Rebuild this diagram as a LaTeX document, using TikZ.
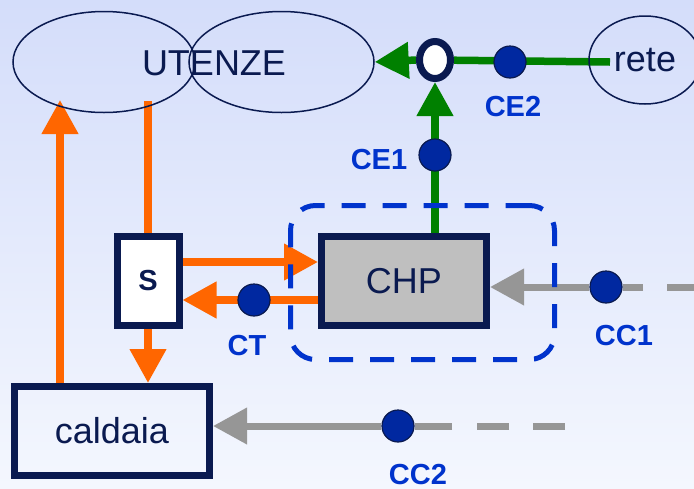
\documentclass[tikz,border=0pt]{standalone}
\usepackage{fontspec}
\setmainfont{Liberation Sans}
\usetikzlibrary{positioning, arrows.meta, shapes.geometric, backgrounds}
\definecolor{navy}{RGB}{10,26,80}
\definecolor{dotblue}{RGB}{0,40,160}
\definecolor{labelblue}{RGB}{0,51,204}
\definecolor{heatorange}{RGB}{255,102,0}
\definecolor{elgreen}{RGB}{0,128,0}
\definecolor{fuelgray}{RGB}{150,150,150}
\definecolor{bgtop}{RGB}{212,221,250}
\definecolor{bgbottom}{RGB}{244,247,254}
\newcommand{\bigfont}{\fontsize{36}{40}\selectfont}
\newcommand{\labfont}{\fontsize{29}{32}\selectfont\bfseries}

\tikzset{
  userell/.style={draw=navy, line width=1.5pt, ellipse, inner sep=0pt},
  unitbox/.style={draw=navy, line width=7pt, inner sep=0pt, text=navy},
  meter/.style={circle, draw=navy, line width=1.2pt, fill=dotblue,
                minimum size=32pt, inner sep=0pt},
  meterlabel/.style={font=\labfont, text=labelblue, inner sep=0pt},
  heatline/.style={draw=heatorange, line width=7.5pt},
  powerline/.style={draw=elgreen, line width=7.5pt},
  fuelline/.style={draw=fuelgray, line width=7pt},
  tip/.style={-{Triangle[length=34pt, width=35pt]}}
}

\begin{document}
\begin{tikzpicture}[x=1pt, y=-1pt, font=\bigfont]
        \useasboundingbox (0,0) rectangle (694,488);
        % users, grid and junction
        \node[userell, minimum width=182pt, minimum height=101pt] (ut1) at (104,62) {};
        \node[userell, minimum width=185pt, minimum height=101pt] (ut2) at (281.5,62) {};
        \node[text=navy, inner sep=0pt] (utxt) at (214,63) {UTENZE};
        \node[userell, minimum width=112pt, minimum height=88pt] (rete) at (645,60) {};
        \node[text=navy, inner sep=0pt] (retetxt) at (645,60) {rete};
        \node[ellipse, draw=navy, line width=7pt, fill=white, inner sep=0pt,
              minimum width=31pt, minimum height=37pt] (jn) at (435,60) {};
        % units
        \node[unitbox, fill=white, minimum width=62pt, minimum height=89pt,
              font=\labfont] (S) at (148,281) {S};
        \node[unitbox, fill=black!25, minimum width=165pt, minimum height=89pt]
              (CHP) at (404,281) {CHP};
        \node[unitbox, minimum width=195pt, minimum height=89pt] (caldaia)
              at (112,431) {caldaia};
        \node[draw=labelblue, line width=5pt, dash pattern=on 24pt off 17pt,
              rounded corners=25pt, minimum width=264pt, minimum height=154pt]
              (chpzone) at (422.5,282.5) {};
        % meters
        \node[meter] (ce1) at (435,155) {};
        \node[meter] (ce2) at (510,62) {};
        \node[meter] (ct) at (254,300) {};
        \node[meter] (cc1) at (606,287) {};
        \node[meter] (cc2) at (398,426) {};
        \node[meterlabel] at (379,160) {CE1};
        \node[meterlabel] at (513,107) {CE2};
        \node[meterlabel] at (247,346) {CT};
        \node[meterlabel] at (624,336) {CC1};
        \node[meterlabel] at (418,475) {CC2};
        \coordinate (reteout) at (610,62);
        \coordinate (uout) at (148,101);
        \coordinate (uin) at (60,100);
        \coordinate (cc1end) at (700,287);
        \coordinate (cc2end) at (565,426);
        \begin{scope}[on background layer]
          \shade[top color=bgtop, bottom color=bgbottom] (0,0) rectangle (694,488);
          \draw[powerline] (reteout) -- (jn);
          \draw[powerline, tip] (jn.west) -- (ut2.east);
          \draw[powerline, tip] (CHP.north -| jn) -- (jn.south);
          \draw[heatline] (uout) -- (S.north);
          \draw[heatline, tip] (S.south) -- (S.south |- caldaia.north);
          \draw[heatline, tip] (caldaia.north -| uin) -- (uin);
          \draw[heatline, tip] ([yshift=19pt]S.east) -- ([yshift=19pt]CHP.west);
          \draw[heatline, tip] ([yshift=-19pt]CHP.west) -- ([yshift=-19pt]S.east);
          \draw[fuelline, dash pattern=on 33pt off 24pt on 400pt] (cc1end) -- (cc1);
          \draw[fuelline, tip] (cc1) -- (CHP.east |- cc1);
          \draw[fuelline, dash pattern=on 32pt off 24pt on 32pt off 25pt on 400pt]
                (cc2end) -- (cc2);
          \draw[fuelline, tip] (cc2) -- (caldaia.east |- cc2);
        \end{scope}
      \end{tikzpicture}
\end{document}
